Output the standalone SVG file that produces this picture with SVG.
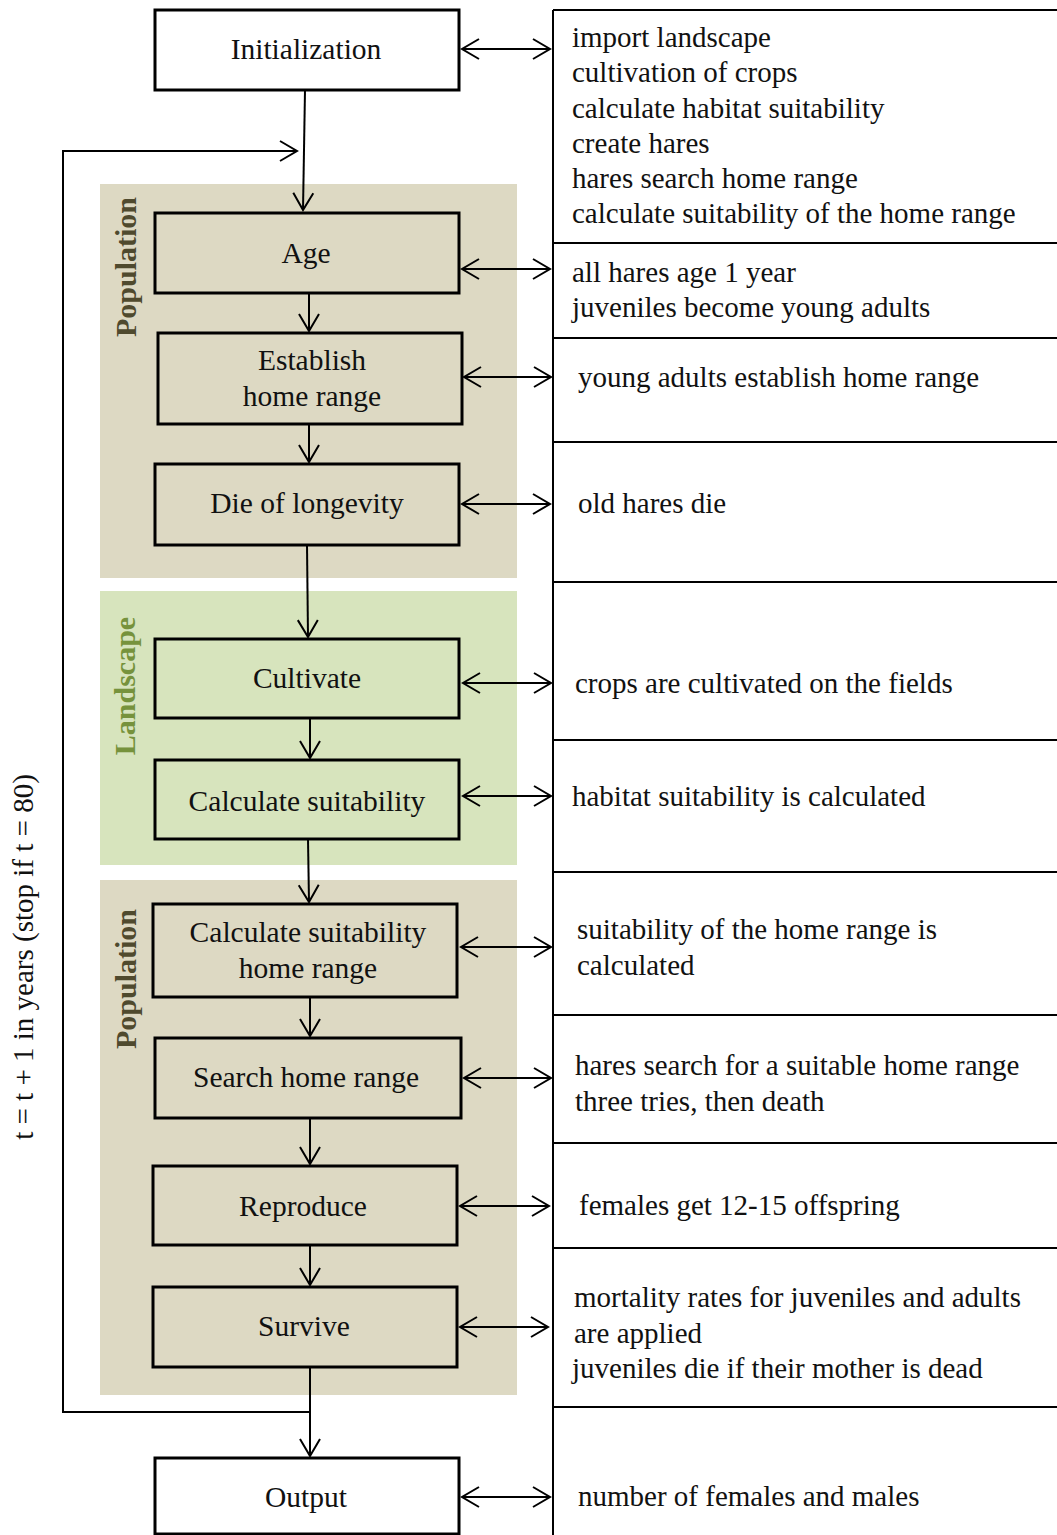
<svg xmlns="http://www.w3.org/2000/svg" width="1057" height="1535" viewBox="0 0 1057 1535">
<style>
text{font-family:"Liberation Serif","Times New Roman",serif;fill:#111}
.n{font-size:29.5px;text-anchor:middle}
.d{font-size:29px}
.lbl{font-size:30px;font-weight:bold;text-anchor:middle}
.box{stroke:#000;stroke-width:3}
.w{fill:#fff}.t{fill:#DDD9C3}.g{fill:#D7E4BD}
.c{stroke:#000;stroke-width:2;fill:none}
.cell{stroke:#000;stroke-width:2;fill:none}
</style>
<defs>
<marker id="ah" viewBox="0 0 20 24" refX="18" refY="12" markerWidth="20" markerHeight="24" markerUnits="userSpaceOnUse" orient="auto-start-reverse">
<path d="M1,2 L18,12 L1,22" fill="none" stroke="#000" stroke-width="2"/>
</marker>
</defs>
<rect width="1057" height="1535" fill="#fff"/>
<g id="sections">
<rect x="100" y="184" width="417" height="394" fill="#DDD9C3"/>
<rect x="100" y="591" width="417" height="274" fill="#D7E4BD"/>
<rect x="100" y="880" width="417" height="515" fill="#DDD9C3"/>
<text class="lbl" transform="translate(136,267) rotate(-90)" style="fill:#4F4A2E">Population</text>
<text class="lbl" transform="translate(135,686) rotate(-90)" style="fill:#76923C">Landscape</text>
<text class="lbl" transform="translate(136,979) rotate(-90)" style="fill:#4F4A2E">Population</text>
<text class="d" text-anchor="middle" transform="translate(33,957) rotate(-90)">t = t + 1 in years (stop if t = 80)</text>
</g>
<g id="table">
<line class="cell" x1="553" y1="10" x2="553" y2="1535"/>
<line class="cell" x1="553" y1="10" x2="1057" y2="10"/>
<line class="cell" x1="553" y1="243" x2="1057" y2="243"/>
<line class="cell" x1="553" y1="338" x2="1057" y2="338"/>
<line class="cell" x1="553" y1="442" x2="1057" y2="442"/>
<line class="cell" x1="553" y1="582" x2="1057" y2="582"/>
<line class="cell" x1="553" y1="740" x2="1057" y2="740"/>
<line class="cell" x1="553" y1="872" x2="1057" y2="872"/>
<line class="cell" x1="553" y1="1015" x2="1057" y2="1015"/>
<line class="cell" x1="553" y1="1143" x2="1057" y2="1143"/>
<line class="cell" x1="553" y1="1248" x2="1057" y2="1248"/>
<line class="cell" x1="553" y1="1407" x2="1057" y2="1407"/>
<text class="d" x="572" y="47">import landscape</text>
<text class="d" x="572" y="82">cultivation of crops</text>
<text class="d" x="572" y="117.5">calculate habitat suitability</text>
<text class="d" x="572" y="152.5">create hares</text>
<text class="d" x="572" y="188">hares search home range</text>
<text class="d" x="572" y="223">calculate suitability of the home range</text>
<text class="d" x="572" y="282">all hares age 1 year</text>
<text class="d" x="572" y="317">juveniles become young adults</text>
<text class="d" x="578" y="387">young adults establish home range</text>
<text class="d" x="578" y="513">old hares die</text>
<text class="d" x="575" y="693">crops are cultivated on the fields</text>
<text class="d" x="572" y="806">habitat suitability is calculated</text>
<text class="d" x="577" y="939">suitability of the home range is</text>
<text class="d" x="577" y="975">calculated</text>
<text class="d" x="575" y="1075">hares search for a suitable home range</text>
<text class="d" x="575" y="1111">three tries, then death</text>
<text class="d" x="579" y="1215">females get 12-15 offspring</text>
<text class="d" x="574" y="1307">mortality rates for juveniles and adults</text>
<text class="d" x="574" y="1343">are applied</text>
<text class="d" x="572" y="1378">juveniles die if their mother is dead</text>
<text class="d" x="578" y="1506">number of females and males</text>
</g>
<g id="connectors">
<line class="c" x1="305" y1="90" x2="303" y2="210" marker-end="url(#ah)"/>
<polyline class="c" points="310,1412 63,1412 63,151 297,151" marker-end="url(#ah)"/>
<line class="c" x1="309" y1="293" x2="309" y2="331" marker-end="url(#ah)"/>
<line class="c" x1="309" y1="424" x2="309" y2="462" marker-end="url(#ah)"/>
<line class="c" x1="307" y1="545" x2="308" y2="637" marker-end="url(#ah)"/>
<line class="c" x1="310" y1="718" x2="310" y2="758" marker-end="url(#ah)"/>
<line class="c" x1="308" y1="839" x2="309" y2="902" marker-end="url(#ah)"/>
<line class="c" x1="310" y1="997" x2="310" y2="1036" marker-end="url(#ah)"/>
<line class="c" x1="310" y1="1118" x2="310" y2="1164" marker-end="url(#ah)"/>
<line class="c" x1="310" y1="1245" x2="310" y2="1285" marker-end="url(#ah)"/>
<line class="c" x1="310" y1="1367" x2="310" y2="1456" marker-end="url(#ah)"/>
<line class="c" x1="462" y1="49" x2="550" y2="49" marker-start="url(#ah)" marker-end="url(#ah)"/>
<line class="c" x1="462" y1="269" x2="550" y2="269" marker-start="url(#ah)" marker-end="url(#ah)"/>
<line class="c" x1="464" y1="377" x2="551" y2="377" marker-start="url(#ah)" marker-end="url(#ah)"/>
<line class="c" x1="462" y1="504" x2="550" y2="504" marker-start="url(#ah)" marker-end="url(#ah)"/>
<line class="c" x1="463" y1="683" x2="551" y2="683" marker-start="url(#ah)" marker-end="url(#ah)"/>
<line class="c" x1="463" y1="796" x2="551" y2="796" marker-start="url(#ah)" marker-end="url(#ah)"/>
<line class="c" x1="461" y1="947" x2="551" y2="947" marker-start="url(#ah)" marker-end="url(#ah)"/>
<line class="c" x1="464" y1="1078" x2="551" y2="1078" marker-start="url(#ah)" marker-end="url(#ah)"/>
<line class="c" x1="460" y1="1206" x2="549" y2="1206" marker-start="url(#ah)" marker-end="url(#ah)"/>
<line class="c" x1="460" y1="1327" x2="548" y2="1327" marker-start="url(#ah)" marker-end="url(#ah)"/>
<line class="c" x1="462" y1="1497" x2="550" y2="1497" marker-start="url(#ah)" marker-end="url(#ah)"/>
</g>
<g id="initialization"><rect class="box w" x="155" y="10" width="304" height="80"/><text class="n" x="306" y="59">Initialization</text></g>
<g id="age"><rect class="box t" x="155" y="213" width="304" height="80"/><text class="n" x="306" y="263">Age</text></g>
<g id="establish"><rect class="box t" x="158" y="333" width="304" height="91"/><text class="n" x="312" y="370">Establish</text><text class="n" x="312" y="406">home range</text></g>
<g id="die"><rect class="box t" x="155" y="464" width="304" height="81"/><text class="n" x="307" y="513">Die of longevity</text></g>
<g id="cultivate"><rect class="box g" x="155" y="639" width="304" height="79"/><text class="n" x="307" y="688">Cultivate</text></g>
<g id="calc-suitability"><rect class="box g" x="155" y="760" width="304" height="79"/><text class="n" x="307" y="811">Calculate suitability</text></g>
<g id="calc-suitability-hr"><rect class="box t" x="153" y="904" width="304" height="93"/><text class="n" x="308" y="942">Calculate suitability</text><text class="n" x="308" y="978">home range</text></g>
<g id="search"><rect class="box t" x="155" y="1038" width="306" height="80"/><text class="n" x="306" y="1087">Search home range</text></g>
<g id="reproduce"><rect class="box t" x="153" y="1166" width="304" height="79"/><text class="n" x="303" y="1216">Reproduce</text></g>
<g id="survive"><rect class="box t" x="153" y="1287" width="304" height="80"/><text class="n" x="304" y="1336">Survive</text></g>
<g id="output"><rect class="box w" x="155" y="1458" width="304" height="76"/><text class="n" x="306" y="1507">Output</text></g>
</svg>
